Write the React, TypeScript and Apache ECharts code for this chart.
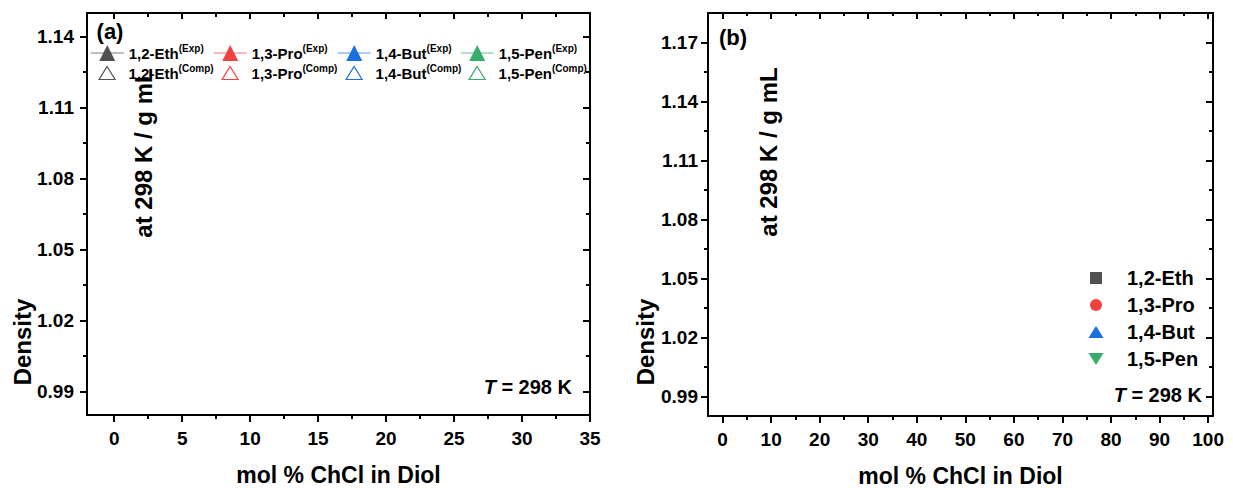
import React, { useEffect, useRef } from 'react';
import * as echarts from 'echarts';

const FONT = '"Liberation Sans", Arial, Helvetica, sans-serif';

// Series names / colours
const diols = ['1,2-Eth', '1,3-Pro', '1,4-But', '1,5-Pen'];
const colors = ['#515151', '#F14040', '#1A6FDF', '#37AD6B'];
const lineColors = ['#a9a9a9', '#f6a3a3', '#93bbef', '#9ed5b5'];
const symbolsB = [
  'path://M0,0H10V10H0Z',
  'path://M5,0A5,5,0,1,1,5,10A5,5,0,1,1,5,0Z',
  'path://M10,0L20,16L0,16Z',
  'path://M0,0L20,0L10,16Z',
];
const hollowTri = 'path://M8,0L16,13L0,13Z';

// Panel (a) axis ticks
const xA_major = [0, 5, 10, 15, 20, 25, 30, 35];
const xA_minor = [2.5, 7.5, 12.5, 17.5, 22.5, 27.5, 32.5];
const yA_major = [0.99, 1.02, 1.05, 1.08, 1.11, 1.14];
const yA_minor = [1.005, 1.035, 1.065, 1.095, 1.125];

// Panel (b) axis ticks
const xB_major = [0, 10, 20, 30, 40, 50, 60, 70, 80, 90, 100];
const xB_minor = [5, 15, 25, 35, 45, 55, 65, 75, 85, 95];
const yB_major = [0.99, 1.02, 1.05, 1.08, 1.11, 1.14, 1.17];
const yB_minor = [1.005, 1.035, 1.065, 1.095, 1.125, 1.155];

// Data: no points are visible in the reference panels
const expA: number[][][] = [[], [], [], []];
const compA: number[][][] = [[], [], [], []];
const densB: number[][][] = [[], [], [], []];

const LINE = { color: '#000', width: 2 };

function mkAxis(
  gridIndex: number,
  position: string,
  min: number,
  max: number,
  values: number[],
  len: number,
  inside: boolean,
  showLine: boolean,
  label: any,
) {
  return {
    type: 'value',
    gridIndex,
    position,
    min,
    max,
    axisLine: { show: showLine, onZero: false, lineStyle: LINE },
    axisTick: { show: true, inside, length: len, customValues: values, lineStyle: LINE },
    axisLabel: label
      ? {
          show: true,
          customValues: values,
          fontFamily: FONT,
          fontSize: 19,
          fontWeight: 'bold',
          color: '#000',
          ...label,
        }
      : { show: false },
    splitLine: { show: false },
    minorTick: { show: false },
  };
}

const fmtY = (v: number) => v.toFixed(2);
const fmtX = (v: number) => String(v);

function rotText(text: string, x: number, y: number) {
  return {
    type: 'text',
    x,
    y,
    rotation: Math.PI / 2,
    style: {
      text,
      fill: '#000',
      fontFamily: FONT,
      fontSize: 24,
      fontWeight: 'bold',
      align: 'center',
      verticalAlign: 'middle',
      textAlign: 'center',
      textVerticalAlign: 'middle',
    },
  };
}

function plainText(text: string, x: number, y: number, size: number, align = 'center') {
  return {
    type: 'text',
    x,
    y,
    style: {
      text,
      fill: '#000',
      fontFamily: FONT,
      fontSize: size,
      fontWeight: 'bold',
      align,
      verticalAlign: 'middle',
      textAlign: align,
      textVerticalAlign: 'middle',
    },
  };
}

function tText(x: number, y: number) {
  return {
    type: 'text',
    x,
    y,
    style: {
      text: '{i|T}{n| = 298 K}',
      align: 'right',
      verticalAlign: 'middle',
      textAlign: 'right',
      textVerticalAlign: 'middle',
      rich: {
        i: { fontFamily: FONT, fontSize: 20, fontWeight: 'bold', fontStyle: 'italic', fill: '#000', color: '#000' },
        n: { fontFamily: FONT, fontSize: 20, fontWeight: 'bold', fill: '#000', color: '#000' },
      },
    },
  };
}

const legendRich = {
  m: { fontFamily: FONT, fontSize: 15, fontWeight: 'bold', color: '#000', lineHeight: 20 },
  s: { fontFamily: FONT, fontSize: 10, fontWeight: 'bold', color: '#000', lineHeight: 11, verticalAlign: 'top' },
};

const legendFormatter = (name: string) => {
  const k = name.indexOf('(');
  return `{m|${name.slice(0, k)}}{s|${name.slice(k)}}`;
};

const legendLefts = [90, 213, 337, 460];

export default function App() {
  const ref = useRef<HTMLDivElement>(null);

  useEffect(() => {
    if (!ref.current) return;
    const chart = echarts.init(ref.current, undefined, { renderer: 'svg' });

    const nameStyle = { fontFamily: FONT, fontSize: 23, fontWeight: 'bold', color: '#000' };
    const xAxis = [
      // panel (a)
      { ...mkAxis(0, 'bottom', -2, 35, xA_major, 7, false, true, { formatter: fmtX, margin: 14 }), name: 'mol % ChCl in Diol', nameLocation: 'middle', nameGap: 48, nameTextStyle: nameStyle },
      mkAxis(0, 'bottom', -2, 35, xA_minor, 4, false, false, null),
      mkAxis(0, 'top', -2, 35, xA_major, 6, true, true, null),
      mkAxis(0, 'top', -2, 35, xA_minor, 4, true, false, null),
      // panel (b)
      { ...mkAxis(1, 'bottom', -3, 101, xB_major, 7, false, true, { formatter: fmtX, margin: 14 }), name: 'mol % ChCl in Diol', nameLocation: 'middle', nameGap: 48, nameTextStyle: nameStyle },
      mkAxis(1, 'bottom', -3, 101, xB_minor, 4, false, false, null),
      mkAxis(1, 'top', -3, 101, xB_major, 6, true, true, null),
      mkAxis(1, 'top', -3, 101, xB_minor, 3, true, false, null),
    ];
    const yAxis = [
      mkAxis(0, 'left', 0.98, 1.15, yA_major, 7, false, true, { formatter: fmtY, margin: 13 }),
      mkAxis(0, 'left', 0.98, 1.15, yA_minor, 4, false, false, null),
      mkAxis(0, 'right', 0.98, 1.15, yA_major, 7, true, true, null),
      mkAxis(0, 'right', 0.98, 1.15, yA_minor, 4, true, false, null),
      mkAxis(1, 'left', 0.98, 1.185, yB_major, 7, false, true, { formatter: fmtY, margin: 10 }),
      mkAxis(1, 'left', 0.98, 1.185, yB_minor, 4, false, false, null),
      mkAxis(1, 'right', 0.98, 1.185, yB_major, 7, true, true, null),
      mkAxis(1, 'right', 0.98, 1.185, yB_minor, 4, true, false, null),
    ];

    const series: any[] = [];
    diols.forEach((d, i) => {
      series.push({
        name: `${d}(Exp)`,
        type: 'line',
        xAxisIndex: 0,
        yAxisIndex: 0,
        data: expA[i],
        symbol: 'triangle',
        symbolSize: 10,
        itemStyle: { color: colors[i], borderWidth: 0, opacity: 1 },
        lineStyle: { color: lineColors[i], width: 1.5 },
      });
      series.push({
        name: `${d}(Comp)`,
        type: 'scatter',
        xAxisIndex: 0,
        yAxisIndex: 0,
        data: compA[i],
        symbol: hollowTri,
        symbolSize: 12,
        symbolKeepAspect: true,
        itemStyle: { color: 'rgba(255,255,255,0)', borderColor: colors[i], borderWidth: 1.2, opacity: 1 },
      });
    });
    diols.forEach((d, i) => {
      series.push({
        name: d,
        type: 'scatter',
        xAxisIndex: 4,
        yAxisIndex: 4,
        data: densB[i],
        symbol: symbolsB[i],
        symbolSize: 12,
        symbolKeepAspect: true,
        itemStyle: { color: colors[i], opacity: 1 },
      });
    });

    const legends: any[] = [];
    diols.forEach((d, i) => {
      legends.push({
        data: [`${d}(Exp)`],
        left: legendLefts[i],
        top: 43,
        padding: 0,
        itemWidth: 33,
        itemHeight: 20,
        selectedMode: false,
        formatter: legendFormatter,
        textStyle: { color: '#000', rich: legendRich },
        itemStyle: { borderWidth: 0 },
        lineStyle: { width: 1.5 },
      });
      legends.push({
        data: [`${d}(Comp)`],
        left: legendLefts[i] + 8.5,
        top: 63,
        padding: 0,
        itemWidth: 33,
        itemHeight: 13,
        symbolKeepAspect: true,
        selectedMode: false,
        formatter: legendFormatter,
        textStyle: { color: '#000', rich: legendRich },
        itemStyle: { borderWidth: 1.2 },
      });
    });
    legends.push({
      data: diols,
      orient: 'vertical',
      left: 1088.5,
      top: 268,
      padding: 0,
      itemWidth: 52,
      itemHeight: 12,
      itemGap: 7,
      symbolKeepAspect: true,
      selectedMode: false,
      textStyle: { color: '#000', fontFamily: FONT, fontSize: 20, fontWeight: 'bold' },
    });

    chart.setOption({
      animation: false,
      backgroundColor: '#fff',
      grid: [
        { left: 87, top: 13, right: 643, bottom: 73, containLabel: false, outerBoundsMode: 'none' },
        { left: 708, top: 13, right: 20, bottom: 72, containLabel: false, outerBoundsMode: 'none' },
      ],
      xAxis,
      yAxis,
      series,
      legend: legends,
      graphic: [
        plainText('(a)', 110, 31, 22),
        plainText('(b)', 733, 37, 22),
        rotText('Density', 22, 342),
        rotText('at 298 K / g mL', 143, 153),
        rotText('Density', 645, 342),
        rotText('at 298 K / g mL', 768, 152),
        tText(572, 387),
        tText(1202, 395),
      ],
    });

    return () => chart.dispose();
  }, []);

  return (
    <div
      ref={ref}
      style={{ position: 'fixed', left: 0, top: 0, width: 1233, height: 488, background: '#fff' }}
    />
  );
}
